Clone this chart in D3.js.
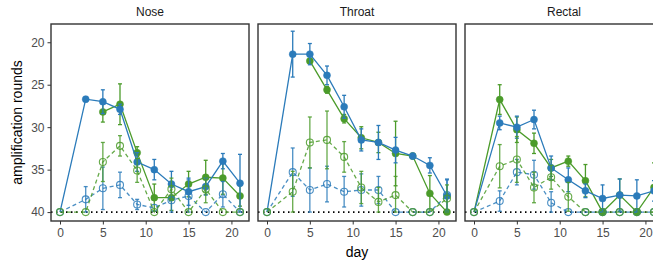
<!DOCTYPE html>
<html>
<head>
<meta charset="utf-8">
<script src="https://cdn.jsdelivr.net/npm/d3@7"></script>
<style>
  body { margin: 0; background: #fff; }
  text { font-family: "Liberation Sans", Arial, sans-serif; }
</style>
</head>
<body>
<svg id="chart" width="653" height="263"></svg>
<script>
// sampling days and facets
var days = [0, 3, 5, 7, 9, 11, 13, 15, 17, 19, 21];
var panels = ["Nose", "Throat", "Rectal"];
var yTicks = [20, 25, 30, 35, 40];
var xTicks = [0, 5, 10, 15, 20];

// Nose
var noseBlue      = [40, 26.7, 27.0, 27.9, 34.1, 35.0, 36.7, 37.6, 37.0, 34.0, 36.6];
var noseBlueErr   = [0, 0.3, 1.4, 0.6, 1.1, 1.2, 1.5, 1.6, 1.0, 0.9, 3.4];
var noseGreen     = [null, null, 28.2, 27.3, 33.0, 38.3, 38.3, 36.7, 35.9, 36.0, 38.1];
var noseGreenErr  = [0, 0, 1.2, 2.4, 0.7, 1.6, 1.5, 1.5, 2.0, 1.9, 1.2];
var noseBlueN     = [40, 38.5, 37.2, 36.8, 39.1, 39.5, 38.6, 38.1, 40, 37.9, 40];
var noseBlueNErr  = [0, 1.5, 2.5, 1.5, 0.6, 0, 1.5, 1.9, 0, 1.5, 0];
var noseGreenN    = [40, 40, 34.1, 32.2, 35.1, 40, 37.3, 40, 37.3, 40, 40];
var noseGreenNErr = [0, 0, 2.3, 1.2, 1.4, 0, 1.3, 0, 1.6, 0, 0];

// Throat
var throatBlue      = [40, 21.4, 21.4, 23.9, 27.6, 31.5, 31.8, 32.7, 33.4, 34.5, 38.1];
var throatBlueErr   = [0, 2.7, 1.25, 1.1, 1.35, 1.3, 2.0, 1.5, 0.3, 0.9, 1.9];
var throatGreen     = [null, null, 22.2, 25.6, 29.0, 31.25, 31.8, 33.1, 33.4, 37.8, 40];
var throatGreenErr  = [0, 0, 0.3, 0.4, 0.5, 1.3, 1.2, 3.8, 0.3, 2.1, 0];
var throatBlueN     = [40, 35.3, 37.4, 36.7, 37.6, 37.4, 37.4, 40, 40, 40, 38.0];
var throatBlueNErr  = [0, 2.85, 2.6, 2.1, 1.8, 1.9, 1.6, 0, 0, 0, 1.9];
var throatGreenN    = [40, 37.6, 31.8, 31.5, 33.5, 37.1, 38.8, 38.0, 40, 40, 38.4];
var throatGreenNErr = [0, 2.4, 3.0, 3.4, 1.8, 1.9, 1.7, 2.2, 0, 0, 1.6];

// Rectal
var rectalBlue      = [40, 29.5, 30.0, 29.1, 34.8, 36.2, 37.5, 38.4, 38.0, 38.1, 37.5];
var rectalBlueErr   = [0, 0.8, 1.3, 1.1, 1.4, 1.4, 0.8, 1.6, 1.9, 1.9, 1.2];
var rectalGreen     = [40, 26.75, 30.3, 31.9, 34.8, 34.0, 36.3, 40, 38.0, 40, 37.1];
var rectalGreenErr  = [0, 1.75, 1.5, 1.2, 1.0, 0.6, 1.9, 0, 1.9, 0, 2.9];
var rectalBlueN     = [40, 38.7, 35.3, 35.6, 38.9, 40, 40, 40, 40, 40, 40];
var rectalBlueNErr  = [0, 1.2, 1.5, 1.7, 1.3, 0, 0, 0, 0, 0, 0];
var rectalGreenN    = [40, 34.6, 33.8, 37.1, 35.9, 38.2, 40, 40, 40, 40, 40];
var rectalGreenNErr = [0, 2.55, 2.7, 1.8, 1.4, 1.7, 0, 0, 0, 0, 0];

var blue = "#2b7bba", green = "#4b9b2a";

// solid series first, dashed (open) on top
var panelData = [
  [ {v: noseGreen, e: noseGreenErr, c: green, open: false},
    {v: noseBlue, e: noseBlueErr, c: blue, open: false},
    {v: noseBlueN, e: noseBlueNErr, c: blue, open: true},
    {v: noseGreenN, e: noseGreenNErr, c: green, open: true} ],
  [ {v: throatGreen, e: throatGreenErr, c: green, open: false},
    {v: throatBlue, e: throatBlueErr, c: blue, open: false},
    {v: throatBlueN, e: throatBlueNErr, c: blue, open: true},
    {v: throatGreenN, e: throatGreenNErr, c: green, open: true} ],
  [ {v: rectalGreen, e: rectalGreenErr, c: green, open: false},
    {v: rectalBlue, e: rectalBlueErr, c: blue, open: false},
    {v: rectalBlueN, e: rectalBlueNErr, c: blue, open: true},
    {v: rectalGreenN, e: rectalGreenNErr, c: green, open: true} ]
];

var svg = d3.select("#chart");
var plotTop = 24, plotBottom = 221, panelW = 198, gap = 9, left0 = 51;

var y = d3.scaleLinear().domain([17.85, 41.05]).range([plotTop, plotBottom]);
var x = d3.scaleLinear().domain([-1.05, 22.05]).range([0, panelW]);

panels.forEach(function(name, p) {
    var g = svg.append("g").attr("transform", "translate(" + (left0 + p * (panelW + gap)) + ",0)");

    g.append("text")
        .attr("x", panelW / 2).attr("y", 16)
        .attr("text-anchor", "middle")
        .attr("font-size", 12)
        .attr("fill", "#1a1a1a")
        .text(name);

    // detection limit
    g.append("line")
        .attr("x1", 0).attr("x2", panelW)
        .attr("y1", y(40)).attr("y2", y(40))
        .attr("stroke", "#000").attr("stroke-width", 1.6)
        .attr("stroke-dasharray", "1.5,3.5");

    panelData[p].forEach(function(s) {
        var pts = days.map(function(d, i) { return {d: d, v: s.v[i], e: s.e[i]}; })
            .filter(function(o) { return o.v !== null; });
        var op = s.open ? 0.85 : 1;

        var line = d3.line().x(function(o) { return x(o.d); }).y(function(o) { return y(o.v); });
        g.append("path")
            .datum(pts)
            .attr("d", line)
            .attr("fill", "none")
            .attr("stroke", s.c)
            .attr("stroke-opacity", op)
            .attr("stroke-width", 1.3)
            .attr("stroke-dasharray", s.open ? "4,3" : null);

        var bars = pts.filter(function(o) { return o.e > 0; });
        var eb = g.append("g").attr("stroke", s.c).attr("stroke-opacity", op).attr("stroke-width", 1.3);
        bars.forEach(function(o) {
            var y1 = y(o.v - o.e), y2 = y(Math.min(40, o.v + o.e)), cx = x(o.d);
            eb.append("line").attr("x1", cx).attr("x2", cx).attr("y1", y1).attr("y2", y2);
            eb.append("line").attr("x1", cx - 2).attr("x2", cx + 2).attr("y1", y1).attr("y2", y1);
            eb.append("line").attr("x1", cx - 2).attr("x2", cx + 2).attr("y1", y2).attr("y2", y2);
        });

        // day 0 shows only the open marker
        var marks = s.open ? pts : pts.filter(function(o) { return o.d > 0; });
        g.selectAll(null)
            .data(marks)
            .enter()
            .append("circle")
            .attr("cx", function(o) { return x(o.d); })
            .attr("cy", function(o) { return y(o.v); })
            .attr("r", 3.5)
            .attr("fill", s.open ? "none" : s.c)
            .attr("stroke", s.c)
            .attr("stroke-opacity", op)
            .attr("stroke-width", s.open ? 1.1 : 0.5);
    });

    g.append("rect")
        .attr("x", 0).attr("y", plotTop)
        .attr("width", panelW).attr("height", plotBottom - plotTop)
        .attr("fill", "none")
        .attr("stroke", "#333").attr("stroke-width", 1.4);

    var xAxis = g.append("g")
        .attr("transform", "translate(0," + plotBottom + ")")
        .call(d3.axisBottom(x).tickValues(xTicks).tickSize(3.5).tickPadding(4));
    xAxis.select(".domain").remove();
    xAxis.selectAll("line").attr("stroke", "#333");
    xAxis.selectAll("text").attr("font-size", 12).attr("fill", "#4d4d4d")
        .style("font-family", "'Liberation Sans', Arial, sans-serif");

    if (p === 0) {
        var yAxis = g.append("g")
            .call(d3.axisLeft(y).tickValues(yTicks).tickSize(3.5).tickPadding(3));
        yAxis.select(".domain").remove();
        yAxis.selectAll("line").attr("stroke", "#333");
        yAxis.selectAll("text").attr("font-size", 12).attr("fill", "#4d4d4d")
            .style("font-family", "'Liberation Sans', Arial, sans-serif");
    }
});

svg.append("text")
    .attr("transform", "translate(17," + ((plotTop + plotBottom) / 2) + ") rotate(-90)")
    .attr("text-anchor", "middle")
    .attr("dy", "0.35em")
    .attr("font-size", 14)
    .attr("fill", "#000")
    .text("amplification rounds");

svg.append("text")
    .attr("x", left0 + 1.5 * panelW + gap)
    .attr("y", 257)
    .attr("text-anchor", "middle")
    .attr("font-size", 14)
    .attr("fill", "#000")
    .text("day");
</script>
</body>
</html>
